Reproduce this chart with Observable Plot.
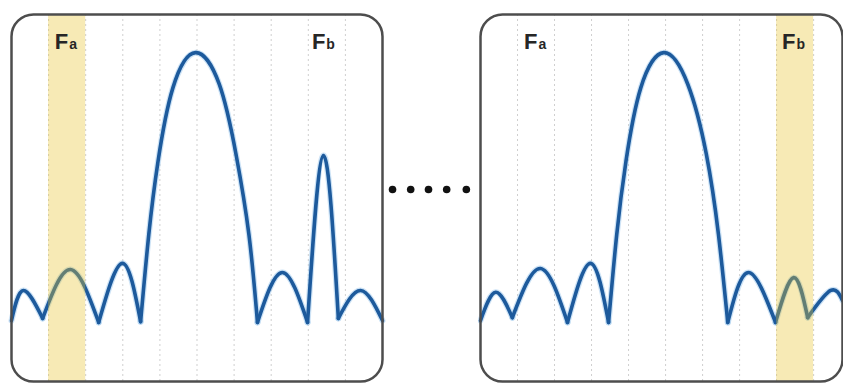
<!DOCTYPE html>
<html><head><meta charset="utf-8">
<script src="https://cdn.jsdelivr.net/npm/d3@7"></script>
<script src="https://cdn.jsdelivr.net/npm/@observablehq/plot@0.6"></script>
<style>
html,body{margin:0;padding:0;background:#fff;overflow:hidden}
#row{display:flex;width:843px;height:383px}
#row svg{display:block;flex:none}
</style></head><body><div id="row"></div>
<script>
// ---- data (frequency in bins, level in % of panel height) ----
const gridBins = [1, 2, 3, 4, 5, 6, 7, 8, 9];

const leftFreq  = [0, 0.32, 0.84, 1.59, 2.35, 2.99, 3.48, 3.70, 3.95, 4.35, 4.96, 5.60, 6.05, 6.40, 6.63, 7.30, 7.98, 8.41, 8.81, 9.41, 10];
const leftLevel = [16.6, 24.8, 17.2, 30.5, 16.1, 32.2, 16.3, 40, 60, 80, 89.6, 81, 62, 40, 16.1, 29.7, 16.1, 61.6, 17.2, 24.8, 16.6];
const leftNulls = [0.84, 2.35, 3.48, 6.63, 7.98, 8.81];
const leftBand  = [1, 2];

const rightFreq  = [0, 0.41, 0.86, 1.62, 2.35, 2.97, 3.46, 3.68, 3.93, 4.33, 4.95, 5.60, 6.10, 6.43, 6.68, 7.24, 7.97, 8.46, 8.84, 9.46, 9.78];
const rightLevel = [16.6, 24.3, 17.4, 30.8, 16.1, 32.2, 16.1, 40, 60, 80, 89.6, 81, 62, 40, 16.1, 29.7, 16.1, 28.3, 17.4, 24.8, 22.1];
const rightNulls = [0.86, 2.35, 3.46, 6.68, 7.97, 8.84];
const rightBand  = [8, 9];

const labelBig   = ["F", "F"];
const labelSub   = ["a", "b"];
const leftLabelFreq  = [1.53, 8.46];
const rightLabelFreq = [1.54, 8.51];
const labelLevel = [90.7, 90.7];

const gapDotFreq  = [10.27, 10.76, 11.24, 11.73, 12.26];
const gapDotLevel = [52.3, 52.3, 52.3, 52.3, 52.3];

// ---- build ----
function lobes(freq, level, nulls) {
  const out = []; let lobe = 0;
  freq.forEach((f, i) => {
    out.push({f, v: level[i], lobe});
    if (nulls.includes(f)) { lobe++; out.push({f, v: level[i], lobe}); }
  });
  return out;
}
const font = "Liberation Sans, Arial, Helvetica, sans-serif";

function panel({width, marginLeft, marginRight, domain, freq, level, nulls, band, labelFreq, extra = []}) {
  const curve = lobes(freq, level, nulls);
  const labels = labelFreq.map((x, i) => ({x, big: labelBig[i], sub: labelSub[i], y: labelLevel[i]}));
  return Plot.plot({
    width, height: 383,
    marginTop: 14, marginBottom: 2, marginLeft, marginRight,
    x: {domain, axis: null},
    y: {domain: [0, 100], axis: null},
    style: {background: "transparent"},
    marks: [
      Plot.ruleX(gridBins, {stroke: "#cfcfcf", strokeWidth: 1, strokeDasharray: "2,3"}),
      Plot.line(curve, {x: "f", y: "v", z: "lobe", curve: "natural", stroke: "#9cc8ee", strokeWidth: 6, strokeOpacity: 0.5}),
      Plot.line(curve, {x: "f", y: "v", z: "lobe", curve: "natural", stroke: "#1d5a9c", strokeWidth: 3.6, strokeLinecap: "round", strokeLinejoin: "round"}),
      Plot.rect([{x1: band[0], x2: band[1]}], {x1: "x1", x2: "x2", fill: "#e9c22a", fillOpacity: 0.35}),
      Plot.text(labels, {x: "x", y: "y", text: "big", textAnchor: "end", lineAnchor: "bottom", fontSize: 22, fontWeight: "bold", fontFamily: font, fill: "#262626"}),
      Plot.text(labels, {x: "x", y: "y", text: "sub", textAnchor: "start", lineAnchor: "bottom", dx: 1, fontSize: 14, fontWeight: "bold", fontFamily: font, fill: "#262626"}),
      Plot.frame({rx: 22, ry: 22, stroke: "#4d4d4d", strokeWidth: 2.5}),
      ...extra
    ]
  });
}

const row = document.getElementById("row");
row.append(panel({
  width: 478, marginLeft: 11, marginRight: 96, domain: [0, 10],
  freq: leftFreq, level: leftLevel, nulls: leftNulls, band: leftBand, labelFreq: leftLabelFreq,
  extra: [Plot.dot(gapDotFreq.map((x, i) => ({x, y: gapDotLevel[i]})), {x: "x", y: "y", r: 3.8, fill: "#111", stroke: "none"})]
}));
row.append(panel({
  width: 365, marginLeft: 2, marginRight: 1, domain: [0, 9.78],
  freq: rightFreq, level: rightLevel, nulls: rightNulls, band: rightBand, labelFreq: rightLabelFreq
}));
</script></body></html>
